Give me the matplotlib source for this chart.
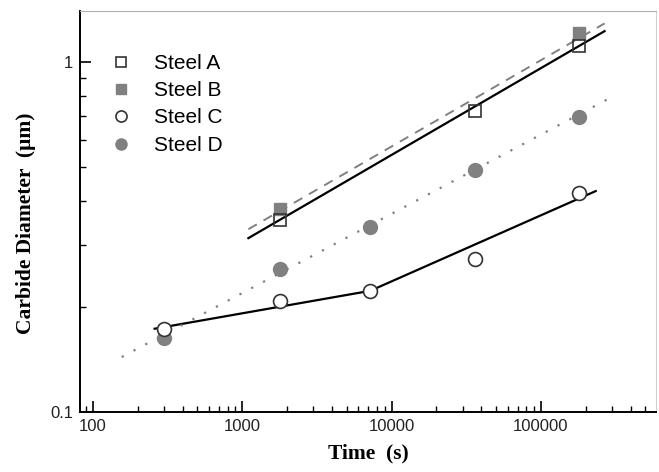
import numpy as np
import matplotlib
matplotlib.use("Agg")
import matplotlib.pyplot as plt
from matplotlib.ticker import LogLocator, NullFormatter, FixedLocator, FixedFormatter

# measured carbide diameters (um) vs time (s)
time_a = [1800, 36000, 180000]
diam_a = [0.354, 0.724, 1.11]
time_b = [1800, 180000]
diam_b = [0.38, 1.21]
time_c = [300, 1800, 7200, 36000, 180000]
diam_c = [0.173, 0.207, 0.222, 0.274, 0.422]
time_d = [300, 1800, 7200, 36000, 180000]
diam_d = [0.163, 0.256, 0.338, 0.491, 0.696]

# fitted lines (end points)
fit_a_t = [1100, 267000]
fit_a_d = [0.314, 1.226]
fit_b_t = [1100, 267000]
fit_b_d = [0.333, 1.29]
fit_c_t = [259, 7200, 233000]
fit_c_d = [0.173, 0.222, 0.428]
fit_d_t = [156, 297000]
fit_d_d = [0.1436, 0.794]

gray = "#808080"

fig = plt.figure(figsize=(6.59, 4.72), dpi=100)
ax = fig.add_axes([0.1214, 0.1271, 0.8740, 0.8496])

# fit lines
ax.plot(fit_a_t, fit_a_d, color="black", lw=1.6, zorder=2)
ax.plot(fit_b_t, fit_b_d, color=gray, lw=1.4, ls=(0, (5, 4)), zorder=2)
ax.plot(fit_c_t, fit_c_d, color="black", lw=1.6, zorder=2)
ax.plot(fit_d_t, fit_d_d, color=gray, lw=1.6, ls=(0, (1, 5)), zorder=2)

# data points
ax.plot(time_b, diam_b, "s", color=gray, ms=8.6, mec=gray, label="Steel B", zorder=3)
ax.plot(time_a, diam_a, "s", mfc="none", mec="#333333", mew=1.2, ms=8.6, label="Steel A", zorder=4)
ax.plot(time_c, diam_c, "o", mfc="white", mec="#333333", mew=1.2, ms=10, label="Steel C", zorder=4)
ax.plot(time_d, diam_d, "o", color=gray, mec=gray, ms=10, label="Steel D", zorder=3)

ax.set_xscale("log")
ax.set_yscale("log")
ax.set_xlim(82, 590000)
ax.set_ylim(0.1, 1.4)

ax.xaxis.set_major_locator(FixedLocator([100, 1000, 10000, 100000]))
ax.xaxis.set_major_formatter(FixedFormatter(["100", "1000", "10000", "100000"]))
ax.xaxis.set_minor_locator(LogLocator(base=10, subs=np.arange(2, 10)))
ax.xaxis.set_minor_formatter(NullFormatter())
ax.yaxis.set_major_locator(FixedLocator([0.1, 1]))
ax.yaxis.set_major_formatter(FixedFormatter(["0.1", "1"]))
ax.yaxis.set_minor_locator(LogLocator(base=10, subs=np.arange(2, 10)))
ax.yaxis.set_minor_formatter(NullFormatter())

ax.tick_params(which="major", direction="in", length=8, width=1.2, labelsize=12,
               top=False, right=False, colors="black", labelcolor="#222222", pad=5)
ax.tick_params(which="minor", direction="in", length=4.5, width=1.0, top=False, right=False)
for lab in ax.get_xticklabels() + ax.get_yticklabels():
    lab.set_fontfamily("Liberation Sans")

ax.spines["left"].set_linewidth(1.4)
ax.spines["bottom"].set_linewidth(1.4)
ax.spines["top"].set_color("#b0b0b0")
ax.spines["right"].set_color("#d0d0d0")

ax.set_xlabel("Time  (s)", fontfamily="Liberation Serif", fontweight="bold",
              fontsize=15.5, labelpad=7)
ax.set_ylabel("Carbide Diameter  (\u03bcm)", fontfamily="Liberation Serif",
              fontweight="bold", fontsize=15.5, labelpad=10)
ax.yaxis.label.set_y(0.47)

handles, labels = ax.get_legend_handles_labels()
order = [labels.index(l) for l in ["Steel A", "Steel B", "Steel C", "Steel D"]]
ax.legend([handles[i] for i in order], [labels[i] for i in order],
          loc="upper left", bbox_to_anchor=(0.003, 0.94), frameon=False,
          prop={"family": "Liberation Sans", "size": 15}, handletextpad=0.57,
          labelspacing=0.4, markerscale=0.8)

fig.savefig("out.png", dpi=100)
